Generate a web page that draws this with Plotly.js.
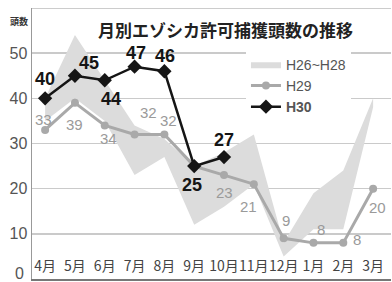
<!DOCTYPE html>
<html><head><meta charset="utf-8">
<script src="https://cdn.plot.ly/plotly-3.0.1.min.js"></script>
<style>html,body{margin:0;padding:0;background:#fff}#c{width:392px;height:282px}</style>
</head><body><div id="c"></div>
<script>
const months = ['4月','5月','6月','7月','8月','9月','10月','11月','12月','1月','2月','3月'];
const bandUpper = [40, 54, 44, 34, 31, 25, 28, 32, 8, 19, 24, 40];
const bandLower = [35, 40, 35, 23, 27, 12, 16, 21, 5, 11, 11, 38];
const h29 = [33, 39, 34, 32, 32, 25, 23, 21, 9, 8, 8, 20];
const h30 = [40, 45, 44, 47, 46, 25, 27];
const yTicks = [10, 20, 30, 40, 50];

// label offsets (px) for value labels
const h29Off = [[-2,10],[0,-22],[4,-13],[14,22],[4,14],null,[0,-17],[-5,-22],[2,18],[8,13],[14,3],[4,-19]];
const h30Off = [[0,19],[14,13],[6,-19],[1,14],[1,15],[-2,-19],[0,17]];

const traces = [
  {x: months, y: bandLower, type:'scatter', mode:'lines', line:{width:0, color:'rgba(0,0,0,0)'}, showlegend:false, hoverinfo:'skip'},
  {x: months, y: bandUpper, type:'scatter', mode:'lines', name:'H26~H28', fill:'tonexty', fillcolor:'#dcdcdc', line:{width:0, color:'#dcdcdc'}},
  {x: months, y: h29, type:'scatter', mode:'lines+markers', name:'H29', line:{color:'#a9a9a9', width:3}, marker:{symbol:'circle', size:8, color:'#a9a9a9'}},
  {x: months.slice(0, h30.length), y: h30, type:'scatter', mode:'lines+markers', name:'<b>H30</b>', line:{color:'#151515', width:2.5}, marker:{symbol:'diamond', size:11, color:'#151515'}}
];

const ann = [];
h29.forEach((v,i)=>{
  if(!h29Off[i]) return;
  ann.push({x: months[i], y: v, text: String(v), showarrow:false, xshift:h29Off[i][0], yshift:h29Off[i][1],
    font:{family:'Liberation Sans, Arial', size:15, color:'#9a9a9a'}});
});
h30.forEach((v,i)=>{
  ann.push({x: months[i], y: v, text: '<b>'+v+'</b>', showarrow:false, xshift:h30Off[i][0], yshift:h30Off[i][1],
    font:{family:'Liberation Sans, Arial', size:18, color:'#151515'}});
});
ann.push({xref:'paper', yref:'y', x:0, y:0, xanchor:'right', xshift:-6, yshift:6, text:'0', showarrow:false,
  font:{family:'Liberation Sans, Arial', size:16, color:'#555'}});
ann.push({xref:'paper', yref:'paper', x:-0.005, y:1.0, xanchor:'right', yanchor:'top', yshift:-5, text:'<b>頭数</b>', showarrow:false,
  font:{family:'Noto Sans CJK JP', size:9, color:'#333'}});

const layout = {
  width:392, height:282,
  margin:{l:32, r:1, t:8, b:3},
  paper_bgcolor:'#fff', plot_bgcolor:'#fff',
  title:{text:'<b>月別エゾシカ許可捕獲頭数の推移</b>', x:0.575, xref:'container', y:0.89, yref:'container', xanchor:'center', yanchor:'middle',
    font:{family:'Noto Sans CJK JP', size:17, color:'#222'}},
  showlegend:true,
  legend:{x:0.596, y:0.85, xanchor:'left', yanchor:'top', bgcolor:'#fff', borderwidth:0,
    font:{family:'Liberation Sans, Arial', size:14, color:'#555'}, traceorder:'normal'},
  xaxis:{type:'category', range:[-0.44, 11.6], showgrid:false, zeroline:false, showline:true, linecolor:'#777', linewidth:2,
    ticks:'', tickangle:0, ticklabelposition:'inside', ticklabelstandoff:5, tickfont:{family:'Noto Sans CJK JP', size:14, color:'#444'}, fixedrange:true},
  yaxis:{range:[0,60], tickvals:yTicks, showgrid:true, gridcolor:'#cacaca', gridwidth:1.5, zeroline:false, showline:true,
    linecolor:'#999', linewidth:1.5, ticks:'', tickfont:{family:'Liberation Sans, Arial', size:16, color:'#555'}, fixedrange:true},
  shapes:[{type:'line', xref:'paper', yref:'y', x0:0, x1:1, y0:60, y1:60, line:{color:'#bbb', width:1.5}}],
  annotations: ann
};
Plotly.newPlot('c', traces, layout, {staticPlot:true});
</script></body></html>
